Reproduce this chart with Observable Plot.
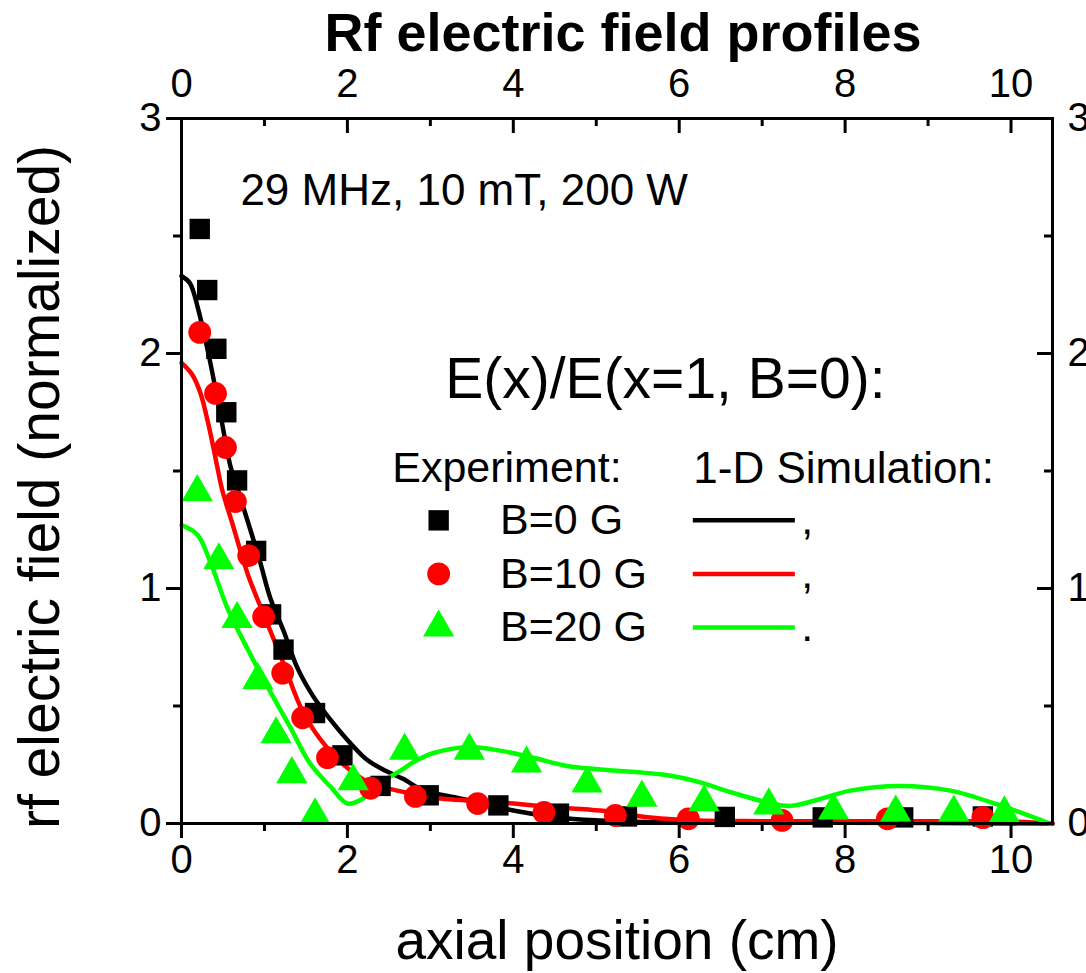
<!DOCTYPE html>
<html>
<head>
<meta charset="utf-8">
<script src="https://cdn.jsdelivr.net/npm/d3@7"></script>
<script src="https://cdn.jsdelivr.net/npm/@observablehq/plot@0.6"></script>
<style>
  html, body { margin: 0; padding: 0; background: #fff; overflow: hidden; }
</style>
</head>
<body>
<div id="chart"></div>
<script>
// Measured rf electric field, normalized to E(x=1 cm, B=0)
const expB0X = [0.22, 0.31, 0.42, 0.54, 0.67, 0.90, 1.08, 1.23, 1.61, 1.94, 2.40, 2.98, 3.82, 4.55, 5.37, 6.55, 7.73, 8.70, 9.66];
const expB0Y = [2.53, 2.27, 2.02, 1.75, 1.46, 1.16, 0.89, 0.74, 0.47, 0.29, 0.16, 0.12, 0.077, 0.042, 0.03, 0.028, 0.026, 0.026, 0.03];

const expB10X = [0.22, 0.41, 0.53, 0.65, 0.81, 0.99, 1.22, 1.46, 1.76, 2.28, 2.82, 3.57, 4.37, 5.23, 6.11, 7.24, 8.51, 9.66];
const expB10Y = [2.09, 1.83, 1.60, 1.37, 1.14, 0.88, 0.64, 0.45, 0.28, 0.15, 0.115, 0.085, 0.047, 0.034, 0.02, 0.013, 0.02, 0.025];

const expB20X = [0.19, 0.45, 0.67, 0.92, 1.14, 1.33, 1.61, 2.07, 2.69, 3.47, 4.16, 4.89, 5.55, 6.30, 7.08, 7.86, 8.61, 9.31, 9.92];
const expB20Y = [1.41, 1.12, 0.87, 0.61, 0.38, 0.21, 0.035, 0.18, 0.31, 0.31, 0.255, 0.17, 0.11, 0.09, 0.077, 0.055, 0.047, 0.047, 0.043];

// 1-D simulation profiles
const simB0X = [0, 0.10, 0.20, 0.33, 0.47, 0.59, 0.67, 0.83, 0.95, 1.07, 1.23, 1.40, 1.59, 1.80, 2.04, 2.24, 2.43, 2.67, 2.92, 3.16, 3.60, 4.00, 4.53, 5.05, 5.60, 6.50, 8.00, 10.50];
const simB0Y = [2.33, 2.30, 2.19, 1.99, 1.74, 1.52, 1.43, 1.25, 1.11, 0.96, 0.82, 0.66, 0.54, 0.44, 0.34, 0.27, 0.23, 0.19, 0.14, 0.12, 0.09, 0.055, 0.026, 0.013, 0.006, 0.004, 0.003, 0];

const simB10X = [0, 0.13, 0.23, 0.33, 0.43, 0.49, 0.61, 0.80, 0.99, 1.22, 1.47, 1.76, 2.04, 2.28, 2.60, 3.04, 3.84, 4.45, 5.05, 5.65, 6.25, 7.00, 8.50, 10.00, 10.50];
const simB10Y = [1.96, 1.91, 1.83, 1.69, 1.52, 1.42, 1.28, 1.06, 0.89, 0.69, 0.47, 0.32, 0.225, 0.17, 0.14, 0.11, 0.09, 0.07, 0.055, 0.026, 0.013, 0.01, 0.01, 0.008, 0];

const simB20X = [0, 0.19, 0.35, 0.55, 0.80, 1.04, 1.31, 1.55, 1.80, 2.00, 2.16, 2.43, 2.64, 2.84, 3.04, 3.45, 3.84, 4.24, 4.65, 5.05, 5.86, 6.25, 6.65, 7.06, 7.34, 7.66, 8.06, 8.66, 9.27, 9.87, 10.47];
const simB20Y = [1.27, 1.23, 1.11, 0.92, 0.74, 0.58, 0.41, 0.255, 0.155, 0.085, 0.10, 0.18, 0.225, 0.27, 0.30, 0.325, 0.31, 0.28, 0.245, 0.23, 0.205, 0.175, 0.13, 0.09, 0.075, 0.10, 0.14, 0.16, 0.14, 0.077, 0];

// Series styling and legend text
const seriesNames = ["B=0 G", "B=10 G", "B=20 G"];
const seriesColors = ["#000000", "#ff0000", "#00ff00"];
const seriesSymbols = ["square", "circle", "triangle"];
const seriesRadius = [11.5, 11.4, 11.6];
const legendEnds = [",", ",", "."];

// Axis ticks
const xMajor = [0, 2, 4, 6, 8, 10];
const xMinor = [1, 3, 5, 7, 9];
const yMajor = [0, 1, 2, 3];
const yMinor = [0.5, 1.5, 2.5];

const W = 1086, H = 973;
const mL = 181, mR = 34, mT = 118, mB = 150;
const innerW = W - mL - mR, innerH = H - mT - mB;
const FONT = "'Liberation Sans', Arial, sans-serif";
const fmt = d => String(d);

const zip = (xs, ys) => xs.map((x, i) => ({x, y: ys[i]}));
const experiments = [zip(expB0X, expB0Y), zip(expB10X, expB10Y), zip(expB20X, expB20Y)];
const simulations = [zip(simB0X, simB0Y), zip(simB10X, simB10Y), zip(simB20X, simB20Y)];
const legendRows = seriesNames.map((name, i) => ({name, i, color: seriesColors[i], symbol: seriesSymbols[i], r: seriesRadius[i], end: legendEnds[i]}));
const rowY = d => 1.29 - 0.228 * d.i;

const marks = [
  // simulation curves
  ...simulations.map((s, i) => Plot.line(s, {x: "x", y: "y", stroke: seriesColors[i], strokeWidth: 4.5, curve: "catmull-rom"})),
  // measured points
  ...experiments.map((s, i) => Plot.dot(s, {x: "x", y: "y", symbol: () => seriesSymbols[i], r: seriesRadius[i], fill: seriesColors[i], stroke: "none"})),

  // frame and axes
  Plot.frame({stroke: "black", strokeWidth: 3}),
  Plot.axisX(xMajor, {anchor: "bottom", tickSize: 15, tickPadding: 6, strokeWidth: 3, fontSize: 40, tickFormat: fmt, label: null}),
  Plot.axisX(xMinor, {anchor: "bottom", tickSize: 8, strokeWidth: 3, tickFormat: () => "", label: null}),
  Plot.axisX(xMajor, {anchor: "top", tickSize: 0, tickPadding: 22, fontSize: 40, tickFormat: fmt, label: null}),
  Plot.ruleX(xMajor, {x: d => d, insetBottom: innerH - 15, strokeWidth: 3}),
  Plot.ruleX(xMinor, {x: d => d, insetBottom: innerH - 8, strokeWidth: 3}),
  Plot.axisY(yMajor, {anchor: "left", tickSize: 15, tickPadding: 5, strokeWidth: 3, fontSize: 40, tickFormat: fmt, label: null}),
  Plot.axisY(yMinor, {anchor: "left", tickSize: 8, strokeWidth: 3, tickFormat: () => "", label: null}),
  Plot.axisY(yMajor, {anchor: "right", tickSize: 0, tickPadding: 15, fontSize: 40, tickFormat: fmt, label: null}),
  Plot.ruleY(yMajor, {y: d => d, insetLeft: innerW - 15, strokeWidth: 3}),
  Plot.ruleY(yMinor, {y: d => d, insetLeft: innerW - 8, strokeWidth: 3}),

  // titles
  Plot.text(["Rf electric field profiles"], {frameAnchor: "top", lineAnchor: "middle", dx: 6, dy: -85, fontSize: 54, fontWeight: "bold"}),
  Plot.text(["axial position (cm)"], {frameAnchor: "bottom", lineAnchor: "middle", dy: 118, fontSize: 55}),
  Plot.text(["rf electric field (normalized)"], {frameAnchor: "left", textAnchor: "middle", lineAnchor: "middle", dx: -141, dy: 16, rotate: -90, fontSize: 57}),

  // annotations
  Plot.text(["29 MHz, 10 mT, 200 W"], {x: 0.71, y: 2.69, textAnchor: "start", fontSize: 44}),
  Plot.text(["E(x)/E(x=1, B=0):"], {x: 3.18, y: 1.89, textAnchor: "start", fontSize: 57}),
  Plot.text(["Experiment:"], {x: 2.54, y: 1.51, textAnchor: "start", fontSize: 43}),
  Plot.text(["1-D Simulation:"], {x: 6.17, y: 1.51, textAnchor: "start", fontSize: 44}),

  // legend rows
  Plot.dot(legendRows, {x: 3.1, y: rowY, symbol: "symbol", r: "r", fill: "color", stroke: "none"}),
  Plot.text(legendRows, {x: 3.84, y: rowY, text: "name", textAnchor: "start", fontSize: 43}),
  Plot.ruleY(legendRows, {y: rowY, x1: 6.17, x2: 7.40, stroke: "color", strokeWidth: 4.5}),
  Plot.text(legendRows, {x: 7.47, y: rowY, text: "end", textAnchor: "start", fontSize: 43})
];

const chart = Plot.plot({
  width: W,
  height: H,
  marginLeft: mL,
  marginRight: mR,
  marginTop: mT,
  marginBottom: mB,
  x: {domain: [0, 10.5]},
  y: {domain: [0, 3]},
  r: {type: "identity"},
  symbol: {type: "identity"},
  color: {type: "identity"},
  style: {fontFamily: FONT, fontSize: "40px", color: "black", background: "white", overflow: "hidden"},
  marks
});

document.getElementById("chart").appendChild(chart);
</script>
</body>
</html>
